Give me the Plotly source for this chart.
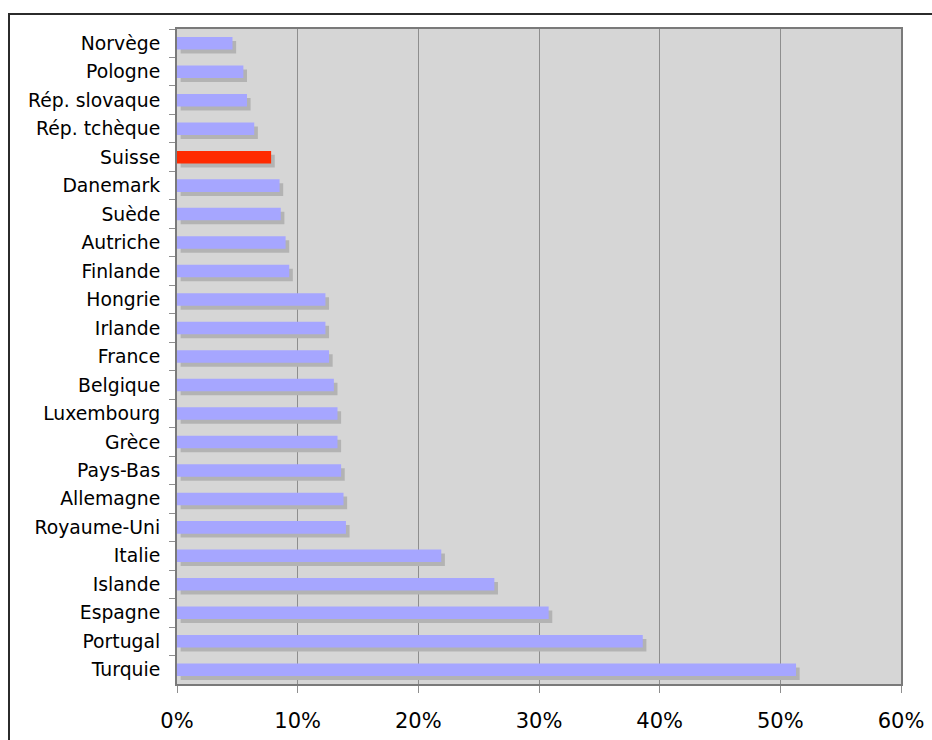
import plotly.graph_objects as go

# Share (%) per country, top to bottom
countries = [
    "Norvège", "Pologne", "Rép. slovaque", "Rép. tchèque", "Suisse",
    "Danemark", "Suède", "Autriche", "Finlande", "Hongrie", "Irlande",
    "France", "Belgique", "Luxembourg", "Grèce", "Pays-Bas", "Allemagne",
    "Royaume-Uni", "Italie", "Islande", "Espagne", "Portugal", "Turquie",
]
values = [
    4.6, 5.5, 5.8, 6.4, 7.8,
    8.5, 8.6, 9.0, 9.3, 12.3, 12.3,
    12.6, 13.0, 13.3, 13.3, 13.6, 13.8,
    14.0, 21.9, 26.3, 30.8, 38.6, 51.3,
]
highlight = "Suisse"
x_ticks = [0, 10, 20, 30, 40, 50, 60]
x_tick_labels = [f"{v}%" for v in x_ticks]

BAR_W = 0.44
bar_colors = ["#ff2a00" if c == highlight else "#a6a6ff" for c in countries]

fig = go.Figure()

# drop shadow behind each bar, nudged right and down
fig.add_trace(go.Bar(
    y=countries, x=values, base=0.3, orientation="h",
    width=BAR_W, offset=-BAR_W / 2 + 0.14,
    marker=dict(color="#b3b3b3", line=dict(width=0)),
    hoverinfo="skip", showlegend=False,
))
fig.add_trace(go.Bar(
    y=countries, x=values, orientation="h",
    width=BAR_W, offset=-BAR_W / 2,
    marker=dict(color=bar_colors, line=dict(width=0)),
    showlegend=False,
))

fig.update_layout(
    width=932, height=740,
    margin=dict(l=177, r=31, t=29, b=56, autoexpand=False),
    paper_bgcolor="white",
    plot_bgcolor="#d6d6d6",
    barmode="overlay",
    font=dict(family="DejaVu Sans, Verdana, sans-serif", size=18, color="black"),
    xaxis=dict(
        range=[0, 60], tickvals=x_ticks, ticktext=x_tick_labels,
        showgrid=True, gridcolor="#8e8e8e", gridwidth=1,
        zeroline=False, automargin=False,
        showline=True, linecolor="#7a7a7a", linewidth=2, mirror=True,
        ticks="outside", ticklen=7, tickcolor="#8e8e8e",
        ticklabelstandoff=10,
        tickfont=dict(size=21),
        fixedrange=True,
    ),
    yaxis=dict(
        type="category", autorange="reversed", automargin=False,
        showgrid=False, zeroline=False,
        showline=True, linecolor="#7a7a7a", linewidth=2, mirror=True,
        ticks="outside", tickson="boundaries", ticklen=6, tickcolor="#8e8e8e",
        ticklabelstandoff=11,
        tickfont=dict(size=18.8),
        fixedrange=True,
    ),
    shapes=[
        # outer frame, visible along the top and left edges
        dict(type="rect", xref="paper", yref="paper",
             x0=(9 - 177) / 724, x1=(945 - 177) / 724,
             y0=-0.2, y1=1 + (29 - 14) / 655,
             line=dict(color="#2b2b2b", width=2), fillcolor="rgba(0,0,0,0)",
             layer="above"),
    ],
)

fig.write_html("out.html")
